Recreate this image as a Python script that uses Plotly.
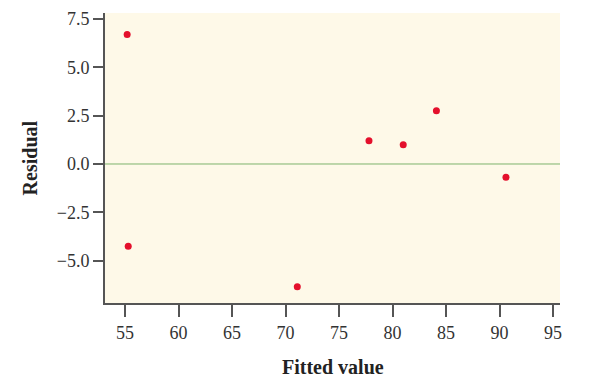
import plotly.graph_objects as go

fitted = [55.2, 55.3, 71.1, 77.8, 81.0, 84.1, 90.6]
residual = [6.7, -4.25, -6.35, 1.2, 1.0, 2.75, -0.68]
x_ticks = [55, 60, 65, 70, 75, 80, 85, 90, 95]
y_ticks = [7.5, 5.0, 2.5, 0.0, -2.5, -5.0]

fig = go.Figure()
fig.add_trace(go.Scatter(x=fitted, y=residual, mode="markers",
                         marker=dict(color="#E4102C", size=7), showlegend=False))
fig.add_hline(y=0, line=dict(color="#7DB36B", width=1))

font = dict(family="Liberation Serif", size=18, color="#333333")
title_font = dict(family="Liberation Serif", size=20, color="#222222")
fig.update_layout(
    width=599, height=382,
    margin=dict(l=105, r=39, t=13, b=79),
    plot_bgcolor="#FEF9E8", paper_bgcolor="white",
    font=font,
)
fig.update_xaxes(range=[53.13, 95.65], tickvals=x_ticks, ticks="outside", ticklen=12,
                 tickcolor="#555555", tickwidth=1.5, showline=True, linecolor="#555555", linewidth=2,
                 showgrid=False, zeroline=False, automargin=False)
fig.update_yaxes(range=[-7.19, 7.81], tickvals=y_ticks, tickformat=".1f", ticks="outside", ticklen=10,
                 tickcolor="#555555", tickwidth=1.5, showline=True, linecolor="#555555", linewidth=2,
                 showgrid=False, zeroline=False, automargin=False)
fig.add_annotation(text="<b>Fitted value</b>", xref="paper", yref="paper", x=0.5, y=-0.221,
                   xanchor="center", yanchor="middle", showarrow=False, font=title_font)
fig.add_annotation(text="<b>Residual</b>", xref="paper", yref="paper", x=-0.164, y=0.5,
                   xanchor="center", yanchor="middle", textangle=-90, showarrow=False, font=title_font)
fig.write_html("out.html")
